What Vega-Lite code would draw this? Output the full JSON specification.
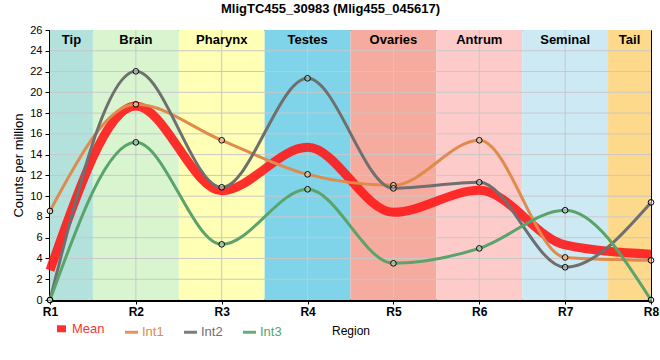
{
  "$schema": "https://vega.github.io/schema/vega-lite/v6.json",
  "width": 601,
  "height": 270,
  "autosize": {"type": "none"},
  "padding": {"left": 50, "top": 30, "right": 9, "bottom": 60},
  "title": {"text": "MligTC455_30983 (Mlig455_045617)", "font": "Liberation Sans", "fontSize": 13, "fontWeight": "bold", "color": "black", "offset": 8, "dx": -20},
  "config": {
    "view": {"stroke": "black", "strokeWidth": 1},
    "font": "Liberation Sans",
    "axis": {"labelOverlap": false},
    "axisY": {"labelOverlap": false, "labelFlush": false, "labelFontSize": 11, "labelColor": "black", "labelPadding": 3, "domainColor": "black", "domainWidth": 3, "tickColor": "black", "tickSize": 5, "grid": false, "titleFontWeight": "normal", "titleFontSize": 13, "titleColor": "black", "titlePadding": 4}
  },
  "datasets": {
    "bands": [
      {"band": "Tip", "start": 1, "end": 1.5},
      {"band": "Brain", "start": 1.5, "end": 2.5},
      {"band": "Pharynx", "start": 2.5, "end": 3.5},
      {"band": "Testes", "start": 3.5, "end": 4.5},
      {"band": "Ovaries", "start": 4.5, "end": 5.5},
      {"band": "Antrum", "start": 5.5, "end": 6.5},
      {"band": "Seminal", "start": 6.5, "end": 7.5},
      {"band": "Tail", "start": 7.5, "end": 8}
    ],
    "hgrid": [{"v": 2}, {"v": 4}, {"v": 6}, {"v": 8}, {"v": 10}, {"v": 12}, {"v": 14}, {"v": 16}, {"v": 18}, {"v": 20}, {"v": 22}, {"v": 24}],
    "vgrid": [{"r": 2}, {"r": 3}, {"r": 4}, {"r": 5}, {"r": 6}, {"r": 7}],
    "expr": [
      {"region": 1, "series": "Mean", "value": 2.86},
      {"region": 2, "series": "Mean", "value": 18.68},
      {"region": 3, "series": "Mean", "value": 10.53},
      {"region": 4, "series": "Mean", "value": 14.7},
      {"region": 5, "series": "Mean", "value": 8.45},
      {"region": 6, "series": "Mean", "value": 10.56},
      {"region": 7, "series": "Mean", "value": 5.3},
      {"region": 8, "series": "Mean", "value": 4.41},
      {"region": 1, "series": "Int1", "value": 8.57},
      {"region": 2, "series": "Int1", "value": 18.84},
      {"region": 3, "series": "Int1", "value": 15.38},
      {"region": 4, "series": "Int1", "value": 12.1},
      {"region": 5, "series": "Int1", "value": 11.05},
      {"region": 6, "series": "Int1", "value": 15.38},
      {"region": 7, "series": "Int1", "value": 4.1},
      {"region": 8, "series": "Int1", "value": 3.82},
      {"region": 1, "series": "Int2", "value": 0},
      {"region": 2, "series": "Int2", "value": 22.02},
      {"region": 3, "series": "Int2", "value": 10.85},
      {"region": 4, "series": "Int2", "value": 21.35},
      {"region": 5, "series": "Int2", "value": 10.75},
      {"region": 6, "series": "Int2", "value": 11.33},
      {"region": 7, "series": "Int2", "value": 3.15},
      {"region": 8, "series": "Int2", "value": 9.4},
      {"region": 1, "series": "Int3", "value": 0},
      {"region": 2, "series": "Int3", "value": 15.18},
      {"region": 3, "series": "Int3", "value": 5.36},
      {"region": 4, "series": "Int3", "value": 10.66},
      {"region": 5, "series": "Int3", "value": 3.53},
      {"region": 6, "series": "Int3", "value": 4.97},
      {"region": 7, "series": "Int3", "value": 8.64},
      {"region": 8, "series": "Int3", "value": 0}
    ]
  },
  "layer": [
    {
      "data": {"name": "bands"},
      "mark": {"type": "rect"},
      "encoding": {
        "x": {"field": "start", "type": "quantitative", "scale": {"domain": [1, 8], "nice": false, "zero": false},
          "axis": {"values": [1, 2, 3, 4, 5, 6, 7, 8], "labelExpr": "'R' + datum.value", "labelFlush": false, "labelOverlap": false, "labelFontWeight": "bold", "labelFontSize": 12, "labelColor": "black", "labelPadding": 2, "domainColor": "black", "domainWidth": 3, "tickColor": "black", "tickSize": 4, "grid": false, "title": "Region", "titleFontWeight": "normal", "titleFontSize": 12, "titleColor": "black", "titlePadding": 8}},
        "x2": {"field": "end"},
        "y": {"datum": 26, "type": "quantitative", "scale": {"domain": [0, 26], "nice": false}, "axis": {"title": "Counts per million", "labelOverlap": false, "values": [0, 2, 4, 6, 8, 10, 12, 14, 16, 18, 20, 22, 24, 26]}},
        "y2": {"datum": 0},
        "fill": {"field": "band", "type": "nominal", "legend": null,
          "scale": {"domain": ["Tip", "Brain", "Pharynx", "Testes", "Ovaries", "Antrum", "Seminal", "Tail"],
                    "range": ["#b3e2dd", "#d8f5d0", "#ffffb5", "#7fd4ea", "#f5ab9d", "#fecbcb", "#cdeaf4", "#fdd98b"]}}
      }
    },
    {
      "data": {"name": "hgrid"},
      "mark": {"type": "rule", "color": "#c8c8c8", "strokeWidth": 1},
      "encoding": {"y": {"field": "v", "type": "quantitative", "axis": {"title": "Counts per million", "labelOverlap": false, "values": [0, 2, 4, 6, 8, 10, 12, 14, 16, 18, 20, 22, 24, 26]}}}
    },
    {
      "data": {"name": "vgrid"},
      "mark": {"type": "rule", "color": "#c8c8c8", "strokeWidth": 1},
      "encoding": {"x": {"field": "r", "type": "quantitative"}}
    },
    {
      "data": {"name": "bands"},
      "transform": [{"calculate": "(datum.start + datum.end) / 2", "as": "mid"}],
      "mark": {"type": "text", "fontWeight": "bold", "fontSize": 13, "baseline": "top", "dy": 4, "color": "black"},
      "encoding": {
        "x": {"field": "mid", "type": "quantitative"},
        "y": {"datum": 26, "type": "quantitative", "axis": {"title": "Counts per million", "labelOverlap": false, "values": [0, 2, 4, 6, 8, 10, 12, 14, 16, 18, 20, 22, 24, 26]}},
        "text": {"field": "band"}
      }
    },
    {
      "data": {"name": "expr"},
      "transform": [{"filter": "datum.series == 'Mean'"}],
      "mark": {"type": "line", "interpolate": "monotone", "opacity": 0.9, "strokeWidth": 9},
      "encoding": {
        "x": {"field": "region", "type": "quantitative"},
        "y": {"field": "value", "type": "quantitative", "axis": {"title": "Counts per million", "labelOverlap": false, "values": [0, 2, 4, 6, 8, 10, 12, 14, 16, 18, 20, 22, 24, 26]}},
        "stroke": {"field": "series", "type": "nominal",
          "scale": {"domain": ["Mean", "Int1", "Int2", "Int3"], "range": ["#ff1a1a", "#e08a4b", "#6f6f6f", "#5aa36a"]},
          "legend": {"title": null, "orient": "none", "direction": "horizontal", "legendX": 5, "legendY": 292, "symbolType": "stroke",
            "symbolSize": {"expr": "datum.label == 'Mean' ? 81 : 169"}, "labelFontSize": 13, "columnPadding": 14, "labelOffset": 4,
            "symbolStrokeWidth": {"expr": "datum.label == 'Mean' ? 7 : 3"},
            "labelColor": {"expr": "datum.label == 'Mean' ? '#ff3333' : datum.label == 'Int1' ? '#e08a4b' : datum.label == 'Int2' ? '#6f6f6f' : '#5aa36a'"}}}
      }
    },
    {
      "data": {"name": "expr"},
      "transform": [{"filter": "datum.series != 'Mean'"}],
      "mark": {"type": "line", "interpolate": "monotone", "strokeWidth": 3},
      "encoding": {
        "x": {"field": "region", "type": "quantitative"},
        "y": {"field": "value", "type": "quantitative", "axis": {"title": "Counts per million", "labelOverlap": false, "values": [0, 2, 4, 6, 8, 10, 12, 14, 16, 18, 20, 22, 24, 26]}},
        "stroke": {"field": "series", "type": "nominal"}
      }
    },
    {
      "data": {"name": "expr"},
      "transform": [{"filter": "datum.series != 'Mean'"}],
      "mark": {"type": "point", "shape": "circle", "filled": false, "fill": "white", "fillOpacity": 0.35, "stroke": "black", "strokeWidth": 1, "size": 32, "opacity": 1},
      "encoding": {
        "x": {"field": "region", "type": "quantitative"},
        "y": {"field": "value", "type": "quantitative", "axis": {"title": "Counts per million", "labelOverlap": false, "values": [0, 2, 4, 6, 8, 10, 12, 14, 16, 18, 20, 22, 24, 26]}}
      }
    }
  ]
}
